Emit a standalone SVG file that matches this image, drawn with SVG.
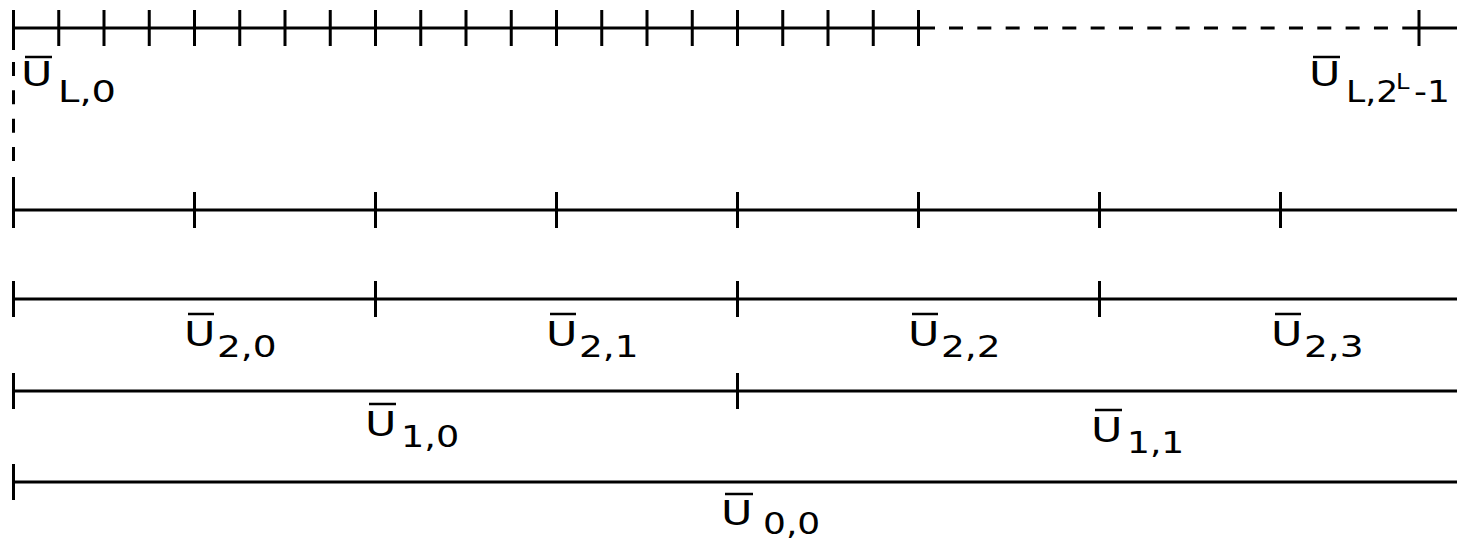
<svg xmlns="http://www.w3.org/2000/svg" width="1457" height="542" viewBox="0 0 1457 542">
<style>
.ln{stroke:#000;stroke-width:3;fill:none}
.dash{stroke:#000;stroke-width:3;fill:none;stroke-dasharray:14 14.33}
.bar{stroke:#000;stroke-width:2.5}
.u{font-family:"DejaVu Sans",sans-serif;font-size:33px;fill:#000}
.s{font-family:"DejaVu Sans",sans-serif;font-size:30px;fill:#000}
.sup{font-family:"DejaVu Sans",sans-serif;font-size:21px;fill:#000}
</style>
<rect width="1457" height="542" fill="#fff"/>
<g id="level-L">
<path class="ln" d="M13.5,28H935M1403,28H1457"/>
<path class="dash" d="M949,28H1403"/>
<path class="ln" d="M13.5,10V50M58.75,10V46M104,10V46M149.25,10V46M194.5,10V46M239.75,10V46M285,10V46M330.25,10V46M375.5,10V46M420.75,10V46M466,10V46M511.25,10V46M556.5,10V46M601.75,10V46M647,10V46M692.25,10V46M737.5,10V46M782.75,10V46M828,10V46M873.25,10V46M918.5,10V46M1419,10V46"/>
<path class="dash" d="M13.5,62V165"/>
</g>
<g id="level-3">
<path class="ln" d="M13.5,210H1457M13.5,177V228M194.5,192V228M375.5,192V228M556.5,192V228M737.5,192V228M918.5,192V228M1099.5,192V228M1280.5,192V228"/>
</g>
<g id="level-2">
<path class="ln" d="M13.5,299H1457M13.5,281V317M375.5,281V317M737.5,281V317M1099.5,281V317"/>
</g>
<g id="level-1">
<path class="ln" d="M13.5,391H1457M13.5,373V409M737.5,373V409"/>
</g>
<g id="level-0">
<path class="ln" d="M13.5,482H1457M13.5,464V500"/>
</g>
<g id="labels">
<g id="lab-L0"><line class="bar" x1="25" y1="57" x2="52" y2="57"/><text class="u" transform="translate(21,86) scale(1.3,1)">U</text><text class="s" transform="translate(58,102) scale(1.28,1)">L,0</text></g>
<g id="lab-Llast"><line class="bar" x1="1313" y1="57" x2="1340" y2="57"/><text class="u" transform="translate(1309,86) scale(1.3,1)">U</text><text class="s" transform="translate(1346,102) scale(1.15,1)">L,2</text><text class="sup" transform="translate(1396,89) scale(1.15,1)">L</text><text class="s" transform="translate(1414,102) scale(1.2,1)">-1</text></g>
<g id="lab-20"><line class="bar" x1="188" y1="314" x2="214" y2="314"/><text class="u" transform="translate(184,346) scale(1.3,1)">U</text><text class="s" transform="translate(217,357) scale(1.25,1)">2,0</text></g>
<g id="lab-21"><line class="bar" x1="550" y1="314" x2="576" y2="314"/><text class="u" transform="translate(546,346) scale(1.3,1)">U</text><text class="s" transform="translate(579,357) scale(1.25,1)">2,1</text></g>
<g id="lab-22"><line class="bar" x1="912" y1="314" x2="938" y2="314"/><text class="u" transform="translate(908,346) scale(1.3,1)">U</text><text class="s" transform="translate(941,357) scale(1.25,1)">2,2</text></g>
<g id="lab-23"><line class="bar" x1="1275" y1="314" x2="1301" y2="314"/><text class="u" transform="translate(1271,346) scale(1.3,1)">U</text><text class="s" transform="translate(1304,357) scale(1.25,1)">2,3</text></g>
<g id="lab-10"><line class="bar" x1="369" y1="404" x2="396" y2="404"/><text class="u" transform="translate(365,436) scale(1.3,1)">U</text><text class="s" transform="translate(401,447) scale(1.22,1)">1,0</text></g>
<g id="lab-11"><line class="bar" x1="1095" y1="410" x2="1122" y2="410"/><text class="u" transform="translate(1091,442) scale(1.3,1)">U</text><text class="s" transform="translate(1127,453) scale(1.2,1)">1,1</text></g>
<g id="lab-00"><line class="bar" x1="725" y1="494" x2="753" y2="494"/><text class="u" transform="translate(721,525) scale(1.3,1)">U</text><text class="s" transform="translate(763,534) scale(1.2,1)">0,0</text></g>
</g>
</svg>
